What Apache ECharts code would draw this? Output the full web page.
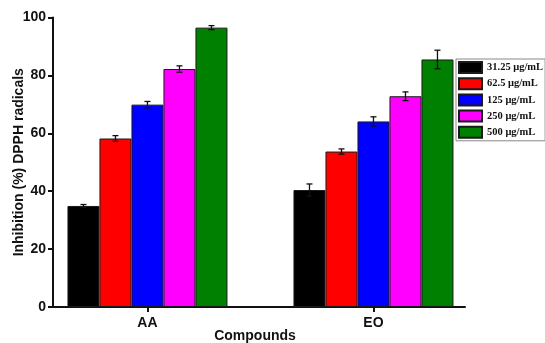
<!DOCTYPE html>
<html>
<head>
<meta charset="utf-8">
<script src="https://cdn.jsdelivr.net/npm/echarts@6/dist/echarts.min.js"></script>
<style>html,body{margin:0;padding:0;background:#fff;}#c{width:545px;height:343px;}</style>
</head>
<body>
<div id="c"></div>
<script>
const categories = ['AA', 'EO'];
const concentrations = ['31.25 μg/mL', '62.5 μg/mL', '125 μg/mL', '250 μg/mL', '500 μg/mL'];
const conc31 = [34.9, 40.4];
const conc62 = [58.2, 53.7];
const conc125 = [69.9, 64.1];
const conc250 = [82.2, 72.8];
const conc500 = [96.5, 85.5];
const err31 = [0.5, 2.1];
const err62 = [1.0, 0.9];
const err125 = [1.1, 1.6];
const err250 = [1.1, 1.5];
const err500 = [0.7, 3.2];
const yTicks = [0, 20, 40, 60, 80, 100];

const values = [conc31, conc62, conc125, conc250, conc500];
const errors = [err31, err62, err125, err250, err500];
const colors = ['#000000', '#ff0000', '#0000ff', '#ff00ff', '#008000'];
const BAR_W = 32;

const chart = echarts.init(document.getElementById('c'), null, {renderer: 'canvas'});
const series = [];
concentrations.forEach((name, s) => {
  series.push({
    name: name,
    type: 'bar',
    barWidth: BAR_W,
    barGap: '0%',
    itemStyle: {color: colors[s], borderColor: '#1a1a1a', borderWidth: 1},
    data: categories.map((c, i) => [i + 1, values[s][i]]),
    z: 2
  });
});
const errData = [];
concentrations.forEach((name, s) => {
  categories.forEach((c, i) => errData.push([i + 1, values[s][i], errors[s][i], s]));
});
series.push({
  type: 'custom',
  name: 'err',
  z: 5,
  renderItem: function (params, api) {
    const x = api.value(0), v = api.value(1), e = api.value(2), s = api.value(3);
    const off = (s - 2) * BAR_W;
    const top = api.coord([x, v + e]);
    const bot = api.coord([x, v - e]);
    const cx = top[0] + off;
    const cap = 3;
    const st = {stroke: '#111', lineWidth: 1.3, fill: null};
    return {
      type: 'group',
      children: [
        {type: 'line', shape: {x1: cx, y1: top[1], x2: cx, y2: bot[1]}, style: st},
        {type: 'line', shape: {x1: cx - cap, y1: top[1], x2: cx + cap, y2: top[1]}, style: st},
        {type: 'line', shape: {x1: cx - cap, y1: bot[1], x2: cx + cap, y2: bot[1]}, style: st}
      ]
    };
  },
  data: errData
});

const sans = 'Liberation Sans, Arial, sans-serif';
chart.setOption({
  backgroundColor: '#ffffff',
  animation: false,
  grid: {left: 53, right: 80, top: 17.5, bottom: 36, containLabel: false, outerBoundsMode: 'none'},
  legend: {
    orient: 'vertical',
    left: 456,
    top: 59,
    data: concentrations,
    itemWidth: 23,
    itemHeight: 11,
    itemGap: 3.2,
    padding: [2, 2, 2, 2],
    borderColor: '#888',
    borderWidth: 1,
    backgroundColor: '#fff',
    textStyle: {fontFamily: 'Liberation Serif, Times New Roman, serif', fontWeight: 'bold', fontSize: 10.5, color: '#111'},
    icon: 'rect'
  },
  xAxis: {
    type: 'value',
    min: 0.582,
    max: 2.405,
    name: 'Compounds',
    nameLocation: 'middle',
    nameGap: 22,
    nameMoveOverlap: false,
    nameTextStyle: {fontFamily: sans, fontWeight: 'bold', fontSize: 14, color: '#111', padding: [0, 8, 0, 0]},
    axisLine: {show: true, lineStyle: {color: '#111', width: 2}},
    axisTick: {show: true, customValues: [1, 2], length: 5, lineStyle: {color: '#111', width: 2}},
    axisLabel: {customValues: [1, 2], formatter: v => categories[Math.round(v) - 1], margin: 9, fontFamily: sans, fontWeight: 'bold', fontSize: 14, color: '#111'},
    splitLine: {show: false}
  },
  yAxis: {
    type: 'value',
    min: 0,
    max: 100,
    interval: 20,
    name: 'Inhibition (%) DPPH radicals',
    nameLocation: 'middle',
    nameGap: 27,
    nameMoveOverlap: false,
    nameTextStyle: {fontFamily: sans, fontWeight: 'bold', fontSize: 14, color: '#111'},
    axisLine: {show: true, lineStyle: {color: '#111', width: 2}},
    axisTick: {show: true, length: 5, lineStyle: {color: '#111', width: 2}},
    axisLabel: {margin: 7, fontFamily: sans, fontWeight: 'bold', fontSize: 14, color: '#111', formatter: v => yTicks.includes(v) ? String(v) : ''},
    splitLine: {show: false}
  },
  series: series
});
</script>
</body>
</html>
